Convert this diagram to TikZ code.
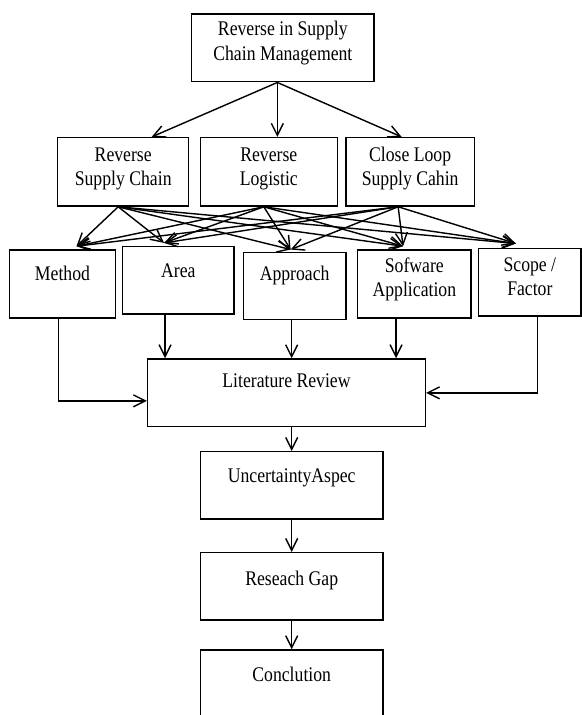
\documentclass[tikz,border=0pt]{standalone}
\usepackage{fontspec}
\setmainfont{Liberation Serif}[FakeStretch=0.85]
\usetikzlibrary{arrows.meta,calc}

\begin{document}
\begin{tikzpicture}[x=0.025cm,y=-0.025cm]
            \tikzstyle{every node}+=[inner sep=0pt]
            \tikzstyle{box}=[draw=black, line width=1.1pt, align=flush center, font=\fontsize{14.8}{17.1}\selectfont]
            \tikzstyle{arr}=[draw=black, line width=1pt, -{Straight Barb[length=8.5pt,width=8.5pt]}]
            \useasboundingbox (0,0) rectangle (582,715);
            \clip (0,0) rectangle (582,715);
            \node [box, text width=4.558cm, text height=0.55cm, text depth=1.1425cm] (rscm) at (282.85,47.85) {Reverse in Supply\\Chain Management};
            \node [box, text width=3.275cm, text height=0.6cm, text depth=1.1075cm] (rsc) at (123.2,171.85) {Reverse\\Supply Chain};
            \node [box, text width=3.425cm, text height=0.6cm, text depth=1.1075cm] (rl) at (268.8,171.85) {Reverse\\Logistic};
            \node [box, text width=3.2075cm, text height=0.6cm, text depth=1.1075cm] (clsc) at (410.15,171.85) {Close Loop\\Supply Cahin};
            \node [box, text width=2.66cm, text height=0.7675cm, text depth=0.9325cm] (method) at (62.5,284) {Method};
            \node [box, text width=2.7825cm, text height=0.765cm, text depth=0.9175cm] (area) at (178.35,280.35) {Area};
            \node [box, text width=2.5675cm, text height=0.71cm, text depth=0.965cm] (appr) at (294.65,285.8) {Approach};
            \node [box, text width=2.8325cm, text height=0.5575cm, text depth=1.1425cm] (soft) at (414.35,284) {Sofware\\Application};
            \node [box, text width=2.5575cm, text height=0.585cm, text depth=1.1075cm] (scope) at (529.85,282.15) {Scope /\\Factor};
            \node [box, text width=6.94cm, text height=0.7175cm, text depth=0.975cm] (lit) at (286.5,392.85) {Literature Review};
            \node [box, text width=4.55cm, text height=0.775cm, text depth=0.9075cm] (unc) at (291.7,485.35) {UncertaintyAspec};
            \node [box, text width=4.55cm, text height=0.8075cm, text depth=0.875cm] (gap) at (291.7,586.35) {Reseach Gap};
            \node [box, text width=4.55cm, text height=0.775cm, text depth=0.9075cm] (concl) at (291.7,683.65) {Conclution};
            \coordinate (rscmout) at ($(rscm.south)+(-5.5,0)$);
            \draw [arr] (rscmout) -- ($(rsc.north)+(28.5,0)$);
            \draw [arr] (rscmout) -- (rscmout |- rl.north);
            \draw [arr] (rscmout) -- ($(clsc.north)+(-8.5,0)$);
            \coordinate (rscout) at ($(rsc.south)+(-5,0)$);
            \coordinate (rlout) at ($(rl.south)+(-5,0)$);
            \coordinate (clscout) at ($(clsc.south)+(-12,0)$);
            \coordinate (methodin) at ($(method.north)+(14,-3)$);
            \coordinate (areain) at ($(area.north)+(-14.3,-3)$);
            \coordinate (apprin) at ($(appr.north)+(-4,-2)$);
            \coordinate (softin) at ($(soft.north)+(-11.3,-3)$);
            \coordinate (scopein) at ($(scope.north)+(-14,-4)$);
            \draw [arr] (rscout) -- (methodin);
            \draw [arr] (rscout) -- (areain);
            \draw [arr] (rscout) -- (apprin);
            \draw [arr] (rscout) -- (softin);
            \draw [arr] (rscout) -- (scopein);
            \draw [arr] (rlout) -- (methodin);
            \draw [arr] (rlout) -- (areain);
            \draw [arr] (rlout) -- (apprin);
            \draw [arr] (rlout) -- (softin);
            \draw [arr] (rlout) -- (scopein);
            \draw [arr] (clscout) -- (methodin);
            \draw [arr] (clscout) -- (areain);
            \draw [arr] (clscout) -- (apprin);
            \draw [arr] (clscout) -- (softin);
            \draw [arr] (clscout) -- (scopein);
            \coordinate (methodout) at ($(method.south)+(-4.2,0)$);
            \coordinate (areaout) at ($(area.south)+(-13.3,0)$);
            \coordinate (approut) at ($(appr.south)+(-3,0)$);
            \coordinate (softout) at ($(soft.south)+(-18.3,0)$);
            \coordinate (scopeout) at ($(scope.south)+(7.8,0)$);
            \draw [arr] (methodout) |- ($(lit.west)+(0,8)$);
            \draw [arr] (areaout) -- (areaout |- lit.north);
            \draw [arr] (approut) -- (approut |- lit.north);
            \draw [arr] (softout) -- (softout |- lit.north);
            \draw [arr] (scopeout) |- (lit.east);
            \draw [arr] (lit.south -| unc.north) -- (unc.north);
            \draw [arr] (unc) -- (gap);
            \draw [arr] (gap) -- (concl);
\end{tikzpicture}
\end{document}
